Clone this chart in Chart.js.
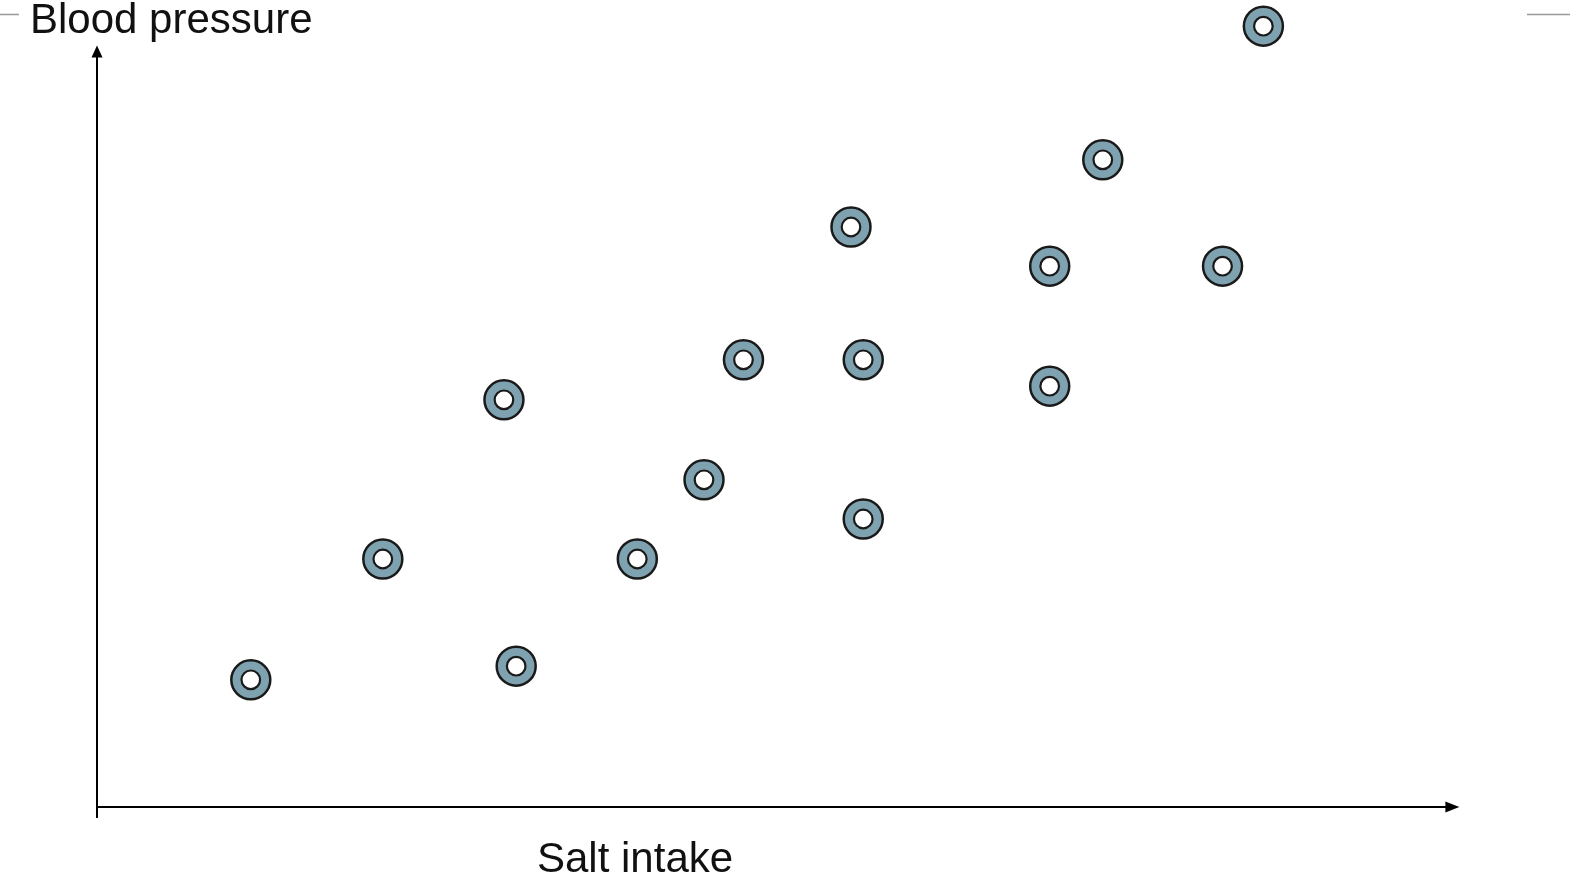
<!DOCTYPE html>
<html>
<head>
<meta charset="utf-8">
<script src="https://cdn.jsdelivr.net/npm/chart.js@4.4.0/dist/chart.umd.min.js"></script>
<style>
  html, body { margin: 0; padding: 0; background: #fff; }
  #wrap { width: 1570px; height: 881px; position: relative; }
</style>
</head>
<body>
<div id="wrap"><canvas id="myChart" width="1570" height="881"></canvas></div>
<script>
// --data--
const saltIntake = [11.3, 21.0, 29.9, 30.8, 39.7, 44.6, 47.5, 55.4, 56.3, 56.3, 70.0, 70.0, 73.9, 82.7, 85.7];
const bloodPressure = [15.9, 31.0, 50.9, 17.6, 31.0, 40.9, 55.9, 72.5, 55.9, 36.0, 67.6, 52.6, 80.9, 67.6, 97.6];
const xTitle = 'Salt intake';
const yTitle = 'Blood pressure';
// -----------------------------

const points = saltIntake.map((v, i) => ({ x: v, y: bloodPressure[i] }));

// draws the two arrow axes and the titles
const arrowAxes = {
    id: 'arrowAxes',
    beforeDatasetsDraw(chart) {
        const { ctx, scales: { x, y } } = chart;
        const x0 = x.getPixelForValue(0);
        const xEnd = x.getPixelForValue(100.1);
        const y0 = y.getPixelForValue(0);
        const yEnd = y.getPixelForValue(95.2);
        ctx.save();
        ctx.strokeStyle = '#000';
        ctx.fillStyle = '#000';
        ctx.lineWidth = 2;
        // y axis
        ctx.beginPath();
        ctx.moveTo(x0, y0 + 11);
        ctx.lineTo(x0, yEnd + 10);
        ctx.stroke();
        ctx.beginPath();
        ctx.moveTo(x0, yEnd);
        ctx.lineTo(x0 - 5.5, yEnd + 12);
        ctx.lineTo(x0 + 5.5, yEnd + 12);
        ctx.closePath();
        ctx.fill();
        // x axis
        ctx.beginPath();
        ctx.moveTo(x0 - 1, y0);
        ctx.lineTo(xEnd - 10, y0);
        ctx.stroke();
        ctx.beginPath();
        ctx.moveTo(xEnd, y0);
        ctx.lineTo(xEnd - 14, y0 - 5.5);
        ctx.lineTo(xEnd - 14, y0 + 5.5);
        ctx.closePath();
        ctx.fill();
        // small grey lines at the top
        ctx.strokeStyle = '#999';
        ctx.lineWidth = 1.5;
        ctx.beginPath();
        ctx.moveTo(0, 14.5); ctx.lineTo(19, 14.5);
        ctx.moveTo(1527, 14.5); ctx.lineTo(1570, 14.5);
        ctx.stroke();
        // titles
        ctx.fillStyle = '#111';
        ctx.font = '42px "Liberation Sans", Arial, sans-serif';
        ctx.textBaseline = 'alphabetic';
        ctx.fillText(yTitle, 30, 33);
        ctx.fillText(xTitle, 537, 872);
        ctx.restore();
    }
};

new Chart(document.getElementById('myChart'), {
    type: 'scatter',
    data: {
        datasets: [{
            // outer ring
            data: points,
            order: 1,
            pointRadius: 19.5,
            pointHoverRadius: 19.5,
            backgroundColor: '#7ea2b0',
            borderColor: '#1a1a1a',
            borderWidth: 2.5,
            clip: false
        }, {
            // white centre
            data: points,
            order: 0,
            pointRadius: 9.3,
            pointHoverRadius: 9.3,
            backgroundColor: '#ffffff',
            borderColor: '#1a1a1a',
            borderWidth: 2.2,
            clip: false
        }]
    },
    options: {
        responsive: false,
        animation: false,
        events: [],
        layout: { autoPadding: false, padding: { left: 97, right: 112, top: 7, bottom: 74 } },
        plugins: { legend: { display: false }, tooltip: { enabled: false } },
        scales: {
            x: { type: 'linear', min: 0, max: 100, display: false },
            y: { type: 'linear', min: 0, max: 100, display: false }
        }
    },
    plugins: [arrowAxes]
});
</script>
</body>
</html>
